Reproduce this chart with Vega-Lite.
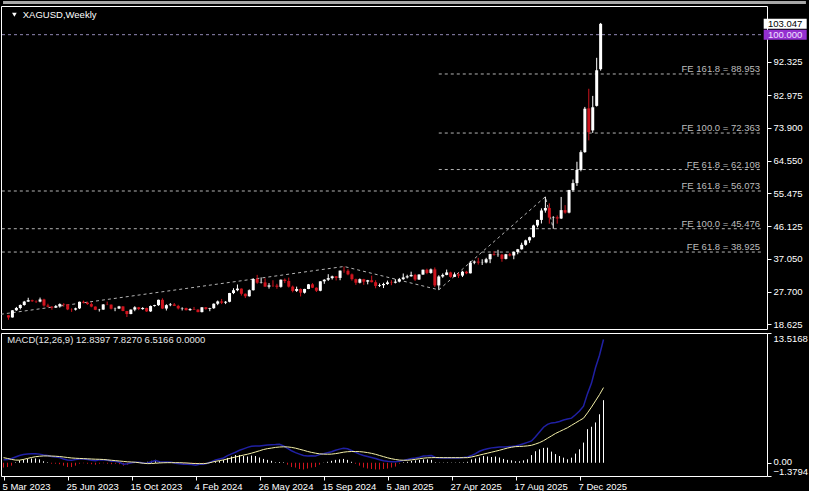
{
"$schema":"https://vega.github.io/schema/vega-lite/v6.json",
"background":"black",
"padding":0,
"spacing":2,
"config":{"view":{"stroke":"white","strokeWidth":1},"axis":{"labelFont":"Liberation Sans","labelFontSize":9.5,"labelColor":"white","tickColor":"white","tickWidth":1,"domain":false,"grid":false,"title":null},"text":{"font":"Liberation Sans","fontSize":9.5}},
"resolve":{"scale":{"x":"independent","y":"independent"}},
"datasets":{
"weeks":[
{"d":"2023-03-05","o":21.15,"h":21.25,"l":19.9,"c":20.55,"m":0.3,"s":0.53,"hist":-0.5},
{"d":"2023-03-12","o":20.55,"h":22.6,"l":20.5,"c":22.55,"m":0.35,"s":0.45,"hist":-0.45},
{"d":"2023-03-19","o":22.55,"h":23.5,"l":22.4,"c":23.2,"m":0.45,"s":0.35,"hist":-0.3},
{"d":"2023-03-26","o":23.2,"h":24.2,"l":22.8,"c":24.05,"m":0.6,"s":0.28,"hist":0.05},
{"d":"2023-04-02","o":24.05,"h":25.2,"l":23.85,"c":25.0,"m":0.75,"s":0.27,"hist":0.25},
{"d":"2023-04-09","o":25.0,"h":26.08,"l":24.9,"c":25.4,"m":0.85,"s":0.35,"hist":0.35},
{"d":"2023-04-16","o":25.4,"h":25.55,"l":24.9,"c":25.1,"m":0.92,"s":0.45,"hist":0.4},
{"d":"2023-04-23","o":25.1,"h":25.35,"l":24.6,"c":25.0,"m":0.95,"s":0.55,"hist":0.45},
{"d":"2023-04-30","o":25.0,"h":26.13,"l":24.8,"c":25.6,"m":0.95,"s":0.63,"hist":0.45},
{"d":"2023-05-07","o":25.6,"h":25.8,"l":23.6,"c":23.9,"m":0.9,"s":0.68,"hist":0.35},
{"d":"2023-05-14","o":23.9,"h":24.4,"l":23.4,"c":23.55,"m":0.8,"s":0.71,"hist":0.15},
{"d":"2023-05-21","o":23.55,"h":23.75,"l":22.7,"c":23.3,"m":0.75,"s":0.71,"hist":0.05},
{"d":"2023-05-28","o":23.3,"h":24.05,"l":23.2,"c":23.65,"m":0.65,"s":0.7,"hist":-0.1},
{"d":"2023-06-04","o":23.65,"h":24.5,"l":23.3,"c":24.3,"m":0.6,"s":0.68,"hist":-0.1},
{"d":"2023-06-11","o":24.3,"h":24.55,"l":23.55,"c":24.2,"m":0.55,"s":0.65,"hist":-0.15},
{"d":"2023-06-18","o":24.2,"h":24.3,"l":22.6,"c":22.8,"m":0.4,"s":0.6,"hist":-0.3},
{"d":"2023-06-25","o":22.8,"h":23.1,"l":22.1,"c":22.75,"m":0.28,"s":0.55,"hist":-0.45},
{"d":"2023-07-02","o":22.75,"h":23.3,"l":22.5,"c":23.1,"m":0.25,"s":0.5,"hist":-0.45},
{"d":"2023-07-09","o":23.1,"h":25.0,"l":22.9,"c":24.95,"m":0.35,"s":0.47,"hist":-0.3},
{"d":"2023-07-16","o":24.95,"h":25.27,"l":24.5,"c":24.7,"m":0.4,"s":0.45,"hist":-0.1},
{"d":"2023-07-23","o":24.7,"h":25.0,"l":24.1,"c":24.3,"m":0.4,"s":0.43,"hist":-0.05},
{"d":"2023-07-30","o":24.3,"h":24.8,"l":23.4,"c":23.6,"m":0.35,"s":0.41,"hist":-0.1},
{"d":"2023-08-06","o":23.6,"h":23.65,"l":22.6,"c":22.7,"m":0.25,"s":0.39,"hist":-0.15},
{"d":"2023-08-13","o":22.7,"h":22.95,"l":22.2,"c":22.75,"m":0.2,"s":0.37,"hist":-0.2},
{"d":"2023-08-20","o":22.75,"h":24.3,"l":22.7,"c":24.2,"m":0.3,"s":0.36,"hist":-0.1},
{"d":"2023-08-27","o":24.2,"h":25.0,"l":24.0,"c":24.15,"m":0.32,"s":0.34,"hist":-0.05},
{"d":"2023-09-03","o":24.15,"h":24.2,"l":22.8,"c":23.0,"m":0.25,"s":0.3,"hist":-0.1},
{"d":"2023-09-10","o":23.0,"h":23.3,"l":22.3,"c":23.05,"m":0.15,"s":0.26,"hist":-0.15},
{"d":"2023-09-17","o":23.05,"h":23.8,"l":22.9,"c":23.65,"m":0.15,"s":0.22,"hist":-0.1},
{"d":"2023-09-24","o":23.65,"h":23.7,"l":22.3,"c":22.35,"m":0.05,"s":0.18,"hist":-0.15},
{"d":"2023-10-01","o":22.35,"h":22.4,"l":20.68,"c":21.5,"m":-0.15,"s":0.14,"hist":-0.3},
{"d":"2023-10-08","o":21.5,"h":22.8,"l":21.45,"c":22.75,"m":-0.1,"s":0.1,"hist":-0.2},
{"d":"2023-10-15","o":22.75,"h":23.7,"l":22.3,"c":23.4,"m":0.0,"s":0.08,"hist":-0.05},
{"d":"2023-10-22","o":23.4,"h":23.5,"l":22.6,"c":22.9,"m":0.05,"s":0.05,"hist":0.02},
{"d":"2023-10-29","o":22.9,"h":23.45,"l":22.7,"c":23.2,"m":0.05,"s":0.0,"hist":0.05},
{"d":"2023-11-05","o":23.2,"h":23.3,"l":22.1,"c":22.25,"m":-0.05,"s":-0.05,"hist":0.02},
{"d":"2023-11-12","o":22.25,"h":23.9,"l":22.1,"c":23.75,"m":-0.02,"s":-0.09,"hist":0.1},
{"d":"2023-11-19","o":23.75,"h":24.1,"l":23.6,"c":24.0,"m":0.1,"s":-0.08,"hist":0.2},
{"d":"2023-11-26","o":24.0,"h":25.55,"l":23.8,"c":25.5,"m":0.22,"s":-0.05,"hist":0.3},
{"d":"2023-12-03","o":25.5,"h":25.92,"l":22.9,"c":23.05,"m":0.1,"s":-0.02,"hist":0.15},
{"d":"2023-12-10","o":23.05,"h":24.25,"l":22.5,"c":24.0,"m":0.08,"s":0.0,"hist":0.05},
{"d":"2023-12-17","o":24.0,"h":24.6,"l":23.7,"c":24.2,"m":0.08,"s":0.01,"hist":0.05},
{"d":"2023-12-24","o":24.2,"h":24.6,"l":23.75,"c":23.8,"m":0.05,"s":0.01,"hist":0.03},
{"d":"2023-12-31","o":23.8,"h":24.1,"l":22.8,"c":23.1,"m":-0.05,"s":0.01,"hist":-0.05},
{"d":"2024-01-07","o":23.1,"h":23.4,"l":22.5,"c":23.2,"m":-0.1,"s":0.01,"hist":-0.1},
{"d":"2024-01-14","o":23.2,"h":23.3,"l":22.5,"c":22.6,"m":-0.15,"s":-0.01,"hist":-0.12},
{"d":"2024-01-21","o":22.6,"h":23.15,"l":22.4,"c":22.9,"m":-0.15,"s":-0.03,"hist":-0.1},
{"d":"2024-01-28","o":22.9,"h":23.5,"l":22.7,"c":22.75,"m":-0.18,"s":-0.06,"hist":-0.12},
{"d":"2024-02-04","o":22.75,"h":22.85,"l":22.0,"c":22.05,"m":-0.25,"s":-0.08,"hist":-0.15},
{"d":"2024-02-11","o":22.05,"h":23.45,"l":21.95,"c":23.4,"m":-0.15,"s":-0.09,"hist":-0.05},
{"d":"2024-02-18","o":23.4,"h":23.45,"l":22.7,"c":22.95,"m":-0.15,"s":-0.09,"hist":-0.05},
{"d":"2024-02-25","o":22.95,"h":23.25,"l":22.3,"c":23.15,"m":-0.05,"s":-0.05,"hist":0.02},
{"d":"2024-03-03","o":23.15,"h":24.5,"l":22.95,"c":24.4,"m":0.12,"s":0.05,"hist":0.1},
{"d":"2024-03-10","o":24.4,"h":25.3,"l":24.0,"c":25.05,"m":0.3,"s":0.15,"hist":0.15},
{"d":"2024-03-17","o":25.05,"h":25.75,"l":24.3,"c":24.7,"m":0.4,"s":0.22,"hist":0.2},
{"d":"2024-03-24","o":24.7,"h":25.15,"l":24.3,"c":24.95,"m":0.5,"s":0.3,"hist":0.3},
{"d":"2024-03-31","o":24.95,"h":27.45,"l":24.8,"c":27.4,"m":0.75,"s":0.4,"hist":0.5},
{"d":"2024-04-07","o":27.4,"h":28.75,"l":27.1,"c":28.2,"m":0.92,"s":0.5,"hist":0.65},
{"d":"2024-04-14","o":28.2,"h":29.8,"l":27.9,"c":28.65,"m":1.1,"s":0.6,"hist":0.8},
{"d":"2024-04-21","o":28.65,"h":28.7,"l":26.7,"c":27.2,"m":1.3,"s":0.7,"hist":0.8},
{"d":"2024-04-28","o":27.2,"h":27.3,"l":26.0,"c":26.5,"m":1.45,"s":0.8,"hist":0.7},
{"d":"2024-05-05","o":26.5,"h":28.4,"l":26.4,"c":28.2,"m":1.6,"s":0.89,"hist":0.65},
{"d":"2024-05-12","o":28.2,"h":31.55,"l":28.1,"c":31.35,"m":1.72,"s":1.0,"hist":0.75},
{"d":"2024-05-19","o":31.35,"h":32.5,"l":30.0,"c":30.3,"m":1.75,"s":1.12,"hist":0.7},
{"d":"2024-05-26","o":30.3,"h":31.8,"l":30.1,"c":30.4,"m":1.75,"s":1.25,"hist":0.55},
{"d":"2024-06-02","o":30.4,"h":31.55,"l":29.15,"c":29.2,"m":1.8,"s":1.38,"hist":0.4},
{"d":"2024-06-09","o":29.2,"h":30.2,"l":28.65,"c":29.55,"m":1.85,"s":1.47,"hist":0.3},
{"d":"2024-06-16","o":29.55,"h":31.0,"l":29.1,"c":29.5,"m":1.88,"s":1.53,"hist":0.2},
{"d":"2024-06-23","o":29.5,"h":30.0,"l":28.6,"c":29.15,"m":1.9,"s":1.6,"hist":0.05},
{"d":"2024-06-30","o":29.15,"h":31.2,"l":28.9,"c":31.15,"m":1.93,"s":1.64,"hist":0.08},
{"d":"2024-07-07","o":31.15,"h":31.5,"l":30.2,"c":30.8,"m":1.75,"s":1.66,"hist":0.05},
{"d":"2024-07-14","o":30.8,"h":31.75,"l":28.95,"c":29.2,"m":1.5,"s":1.65,"hist":-0.2},
{"d":"2024-07-21","o":29.2,"h":29.5,"l":27.6,"c":28.0,"m":1.25,"s":1.6,"hist":-0.45},
{"d":"2024-07-28","o":28.0,"h":29.2,"l":27.7,"c":28.55,"m":1.05,"s":1.52,"hist":-0.5},
{"d":"2024-08-04","o":28.55,"h":28.7,"l":26.45,"c":27.5,"m":0.9,"s":1.41,"hist":-0.65},
{"d":"2024-08-11","o":27.5,"h":28.6,"l":27.25,"c":28.55,"m":0.75,"s":1.3,"hist":-0.7},
{"d":"2024-08-18","o":28.55,"h":29.95,"l":28.5,"c":29.85,"m":0.7,"s":1.18,"hist":-0.6},
{"d":"2024-08-25","o":29.85,"h":30.2,"l":28.8,"c":28.9,"m":0.72,"s":1.08,"hist":-0.5},
{"d":"2024-09-01","o":28.9,"h":29.0,"l":27.7,"c":28.05,"m":0.7,"s":1.0,"hist":-0.45},
{"d":"2024-09-08","o":28.05,"h":30.75,"l":27.9,"c":30.7,"m":0.85,"s":0.93,"hist":-0.2},
{"d":"2024-09-15","o":30.7,"h":31.3,"l":30.0,"c":31.15,"m":0.95,"s":0.9,"hist":0.02},
{"d":"2024-09-22","o":31.15,"h":32.7,"l":30.8,"c":31.6,"m":1.05,"s":0.89,"hist":0.1},
{"d":"2024-09-29","o":31.6,"h":32.3,"l":31.2,"c":32.1,"m":1.15,"s":0.9,"hist":0.2},
{"d":"2024-10-06","o":32.1,"h":32.15,"l":30.95,"c":31.65,"m":1.3,"s":0.95,"hist":0.3},
{"d":"2024-10-13","o":31.65,"h":33.75,"l":31.0,"c":33.7,"m":1.42,"s":1.02,"hist":0.35},
{"d":"2024-10-20","o":33.7,"h":34.87,"l":33.1,"c":33.65,"m":1.5,"s":1.1,"hist":0.4},
{"d":"2024-10-27","o":33.65,"h":34.1,"l":32.4,"c":32.65,"m":1.45,"s":1.15,"hist":0.3},
{"d":"2024-11-03","o":32.65,"h":32.9,"l":30.9,"c":31.3,"m":1.28,"s":1.17,"hist":0.1},
{"d":"2024-11-10","o":31.3,"h":31.45,"l":29.7,"c":30.3,"m":1.08,"s":1.17,"hist":-0.1},
{"d":"2024-11-17","o":30.3,"h":31.5,"l":30.1,"c":31.3,"m":0.9,"s":1.16,"hist":-0.3},
{"d":"2024-11-24","o":31.3,"h":31.4,"l":29.7,"c":30.6,"m":0.75,"s":1.12,"hist":-0.5},
{"d":"2024-12-01","o":30.6,"h":31.1,"l":29.85,"c":31.0,"m":0.65,"s":1.06,"hist":-0.6},
{"d":"2024-12-08","o":31.0,"h":32.3,"l":30.4,"c":30.45,"m":0.55,"s":0.98,"hist":-0.65},
{"d":"2024-12-15","o":30.45,"h":31.0,"l":28.75,"c":29.4,"m":0.45,"s":0.88,"hist":-0.7},
{"d":"2024-12-22","o":29.4,"h":30.1,"l":29.1,"c":29.6,"m":0.32,"s":0.76,"hist":-0.7},
{"d":"2024-12-29","o":29.6,"h":30.3,"l":28.8,"c":29.95,"m":0.22,"s":0.64,"hist":-0.65},
{"d":"2025-01-05","o":29.95,"h":30.9,"l":29.7,"c":30.4,"m":0.15,"s":0.52,"hist":-0.6},
{"d":"2025-01-12","o":30.4,"h":31.0,"l":29.6,"c":30.3,"m":0.1,"s":0.42,"hist":-0.5},
{"d":"2025-01-19","o":30.3,"h":31.3,"l":30.1,"c":30.6,"m":0.1,"s":0.34,"hist":-0.4},
{"d":"2025-01-26","o":30.6,"h":31.65,"l":30.4,"c":31.3,"m":0.15,"s":0.28,"hist":-0.1},
{"d":"2025-02-02","o":31.3,"h":32.9,"l":31.1,"c":31.8,"m":0.25,"s":0.26,"hist":0.05},
{"d":"2025-02-09","o":31.8,"h":32.55,"l":31.5,"c":32.1,"m":0.35,"s":0.26,"hist":0.1},
{"d":"2025-02-16","o":32.1,"h":33.4,"l":32.0,"c":32.5,"m":0.45,"s":0.3,"hist":0.2},
{"d":"2025-02-23","o":32.5,"h":32.8,"l":30.8,"c":31.2,"m":0.5,"s":0.36,"hist":0.25},
{"d":"2025-03-02","o":31.2,"h":32.7,"l":31.1,"c":32.6,"m":0.58,"s":0.42,"hist":0.3},
{"d":"2025-03-09","o":32.6,"h":34.0,"l":32.5,"c":33.95,"m":0.7,"s":0.48,"hist":0.35},
{"d":"2025-03-16","o":33.95,"h":34.25,"l":32.7,"c":33.05,"m":0.72,"s":0.52,"hist":0.35},
{"d":"2025-03-23","o":33.05,"h":34.3,"l":32.8,"c":34.05,"m":0.75,"s":0.53,"hist":0.3},
{"d":"2025-03-30","o":34.05,"h":34.6,"l":29.1,"c":29.55,"m":0.55,"s":0.54,"hist":0.05},
{"d":"2025-04-06","o":29.55,"h":32.4,"l":28.3,"c":32.05,"m":0.5,"s":0.54,"hist":0.03},
{"d":"2025-04-13","o":32.05,"h":32.9,"l":31.7,"c":32.5,"m":0.5,"s":0.53,"hist":0.03},
{"d":"2025-04-20","o":32.5,"h":34.0,"l":32.4,"c":33.2,"m":0.52,"s":0.53,"hist":0.04},
{"d":"2025-04-27","o":33.2,"h":33.4,"l":31.7,"c":31.95,"m":0.5,"s":0.53,"hist":0.03},
{"d":"2025-05-04","o":31.95,"h":33.2,"l":31.9,"c":32.65,"m":0.5,"s":0.53,"hist":0.03},
{"d":"2025-05-11","o":32.65,"h":33.1,"l":31.65,"c":32.3,"m":0.5,"s":0.53,"hist":0.04},
{"d":"2025-05-18","o":32.3,"h":33.65,"l":31.9,"c":33.4,"m":0.55,"s":0.53,"hist":0.05},
{"d":"2025-05-25","o":33.4,"h":33.65,"l":32.7,"c":32.95,"m":0.6,"s":0.53,"hist":0.1},
{"d":"2025-06-01","o":32.95,"h":36.4,"l":32.9,"c":35.95,"m":0.75,"s":0.6,"hist":0.35},
{"d":"2025-06-08","o":35.95,"h":36.55,"l":35.5,"c":36.25,"m":0.95,"s":0.7,"hist":0.45},
{"d":"2025-06-15","o":36.25,"h":37.3,"l":35.4,"c":35.95,"m":1.2,"s":0.8,"hist":0.55},
{"d":"2025-06-22","o":35.95,"h":36.9,"l":35.3,"c":36.0,"m":1.35,"s":0.9,"hist":0.7},
{"d":"2025-06-29","o":36.0,"h":37.3,"l":35.75,"c":36.9,"m":1.45,"s":1.0,"hist":0.65},
{"d":"2025-07-06","o":36.9,"h":38.45,"l":35.8,"c":38.35,"m":1.55,"s":1.1,"hist":0.6},
{"d":"2025-07-13","o":38.35,"h":39.15,"l":37.9,"c":38.15,"m":1.6,"s":1.2,"hist":0.65},
{"d":"2025-07-20","o":38.15,"h":39.55,"l":37.6,"c":38.2,"m":1.65,"s":1.3,"hist":0.55},
{"d":"2025-07-27","o":38.2,"h":38.4,"l":36.2,"c":37.0,"m":1.65,"s":1.42,"hist":0.4},
{"d":"2025-08-03","o":37.0,"h":38.4,"l":36.85,"c":38.3,"m":1.68,"s":1.53,"hist":0.3},
{"d":"2025-08-10","o":38.3,"h":38.7,"l":37.7,"c":37.95,"m":1.7,"s":1.62,"hist":0.25},
{"d":"2025-08-17","o":37.95,"h":39.1,"l":36.9,"c":38.95,"m":1.75,"s":1.68,"hist":0.15},
{"d":"2025-08-24","o":38.95,"h":39.8,"l":38.3,"c":39.7,"m":1.85,"s":1.7,"hist":0.15},
{"d":"2025-08-31","o":39.7,"h":41.55,"l":39.6,"c":40.95,"m":1.98,"s":1.72,"hist":0.25},
{"d":"2025-09-07","o":40.95,"h":42.4,"l":40.7,"c":42.2,"m":2.12,"s":1.76,"hist":0.36},
{"d":"2025-09-14","o":42.2,"h":43.25,"l":41.5,"c":43.1,"m":2.27,"s":1.82,"hist":0.8},
{"d":"2025-09-21","o":43.1,"h":46.6,"l":43.0,"c":46.4,"m":2.7,"s":1.95,"hist":1.2},
{"d":"2025-09-28","o":46.4,"h":48.0,"l":45.9,"c":47.95,"m":3.2,"s":2.1,"hist":1.4},
{"d":"2025-10-05","o":47.95,"h":51.2,"l":46.95,"c":50.6,"m":3.7,"s":2.3,"hist":1.55},
{"d":"2025-10-12","o":50.6,"h":54.47,"l":50.0,"c":51.3,"m":4.0,"s":2.55,"hist":1.57},
{"d":"2025-10-19","o":51.3,"h":52.6,"l":46.9,"c":48.6,"m":4.15,"s":2.8,"hist":1.16},
{"d":"2025-10-26","o":48.6,"h":49.0,"l":45.5,"c":48.7,"m":4.2,"s":3.05,"hist":0.9},
{"d":"2025-11-02","o":48.7,"h":49.2,"l":46.9,"c":48.35,"m":4.3,"s":3.25,"hist":0.7},
{"d":"2025-11-09","o":48.35,"h":54.4,"l":48.2,"c":50.7,"m":4.45,"s":3.45,"hist":0.53},
{"d":"2025-11-16","o":50.7,"h":52.1,"l":49.7,"c":50.0,"m":4.55,"s":3.65,"hist":0.36},
{"d":"2025-11-23","o":50.0,"h":56.4,"l":49.8,"c":56.35,"m":4.65,"s":3.9,"hist":0.53},
{"d":"2025-11-30","o":56.35,"h":59.3,"l":55.9,"c":58.3,"m":5.0,"s":4.15,"hist":0.95},
{"d":"2025-12-07","o":58.3,"h":64.3,"l":57.5,"c":62.0,"m":5.4,"s":4.4,"hist":1.4},
{"d":"2025-12-14","o":62.0,"h":67.5,"l":61.6,"c":67.0,"m":5.9,"s":4.64,"hist":2.1},
{"d":"2025-12-21","o":67.0,"h":79.7,"l":66.8,"c":79.2,"m":7.2,"s":5.2,"hist":3.5},
{"d":"2025-12-28","o":79.3,"h":84.8,"l":70.3,"c":72.6,"m":8.3,"s":5.8,"hist":3.75},
{"d":"2026-01-04","o":73.1,"h":82.8,"l":72.4,"c":79.6,"m":9.9,"s":6.45,"hist":4.2},
{"d":"2026-01-11","o":80.0,"h":93.5,"l":79.8,"c":90.0,"m":11.2,"s":7.1,"hist":5.05},
{"d":"2026-01-18","o":90.3,"h":103.3,"l":89.9,"c":103.05,"m":12.84,"s":7.83,"hist":6.52}
],
"fe":[
{"label":"FE 161.8 = 88.953","price":88.953,"start":"2025-04-06"},
{"label":"FE 100.0 = 72.363","price":72.363,"start":"2025-04-06"},
{"label":"FE 61.8 = 62.108","price":62.108,"start":"2025-04-06"},
{"label":"FE 161.8 = 56.073","price":56.073,"start":"2022-09-04"},
{"label":"FE 100.0 = 45.476","price":45.476,"start":"2022-09-04"},
{"label":"FE 61.8 = 38.925","price":38.925,"start":"2022-09-04"}
],
"zig":[
{"g":"A","d":"2022-09-04","p":17.72},
{"g":"A","d":"2024-10-20","p":34.87},
{"g":"A","d":"2025-04-06","p":28.3},
{"g":"B","d":"2025-04-06","p":28.3},
{"g":"B","d":"2025-10-12","p":54.47},
{"g":"B","d":"2025-10-26","p":45.5}
],
"tags":[
{"label":"100.000","price":100},
{"label":"103.047","price":103.047}
]
},
"vconcat":[
{
"width":766,"height":323,
"layer":[
{"data":{"values":[{}]},"mark":{"type":"rect","color":"#a8a8a8"},
 "encoding":{"x":{"datum":{"year":2023,"month":2,"date":23,"hours":9,"utc":true},"type":"temporal","axis":null,"scale":{"type":"utc","domain":[{"year":2023,"month":2,"date":28,"hours":15,"utc":true},{"year":2026,"month":10,"date":31,"hours":3,"utc":true}],"nice":false}},
 "x2":{"datum":{"year":2027,"month":1,"date":17,"utc":true}},
 "y":{"datum":109.46,"type":"quantitative","scale":{"domain":[17.3,108.06],"nice":false,"zero":false},"axis":{"orient":"right","values":[18.625,27.7,37.05,46.125,55.475,64.55,73.9,82.975,92.325],"format":".3f","tickSize":4,"labelPadding":2,"labelOverlap":false,"labelBound":false,"labelFlush":false}},
 "y2":{"datum":108.6}}},
{"data":{"values":[{}]},"mark":{"type":"rule","color":"#9088b4","strokeDash":[3,3],"strokeWidth":1},
 "encoding":{"y":{"datum":100,"type":"quantitative"}}},
{"data":{"name":"fe"},"mark":{"type":"rule","color":"#b4b4b4","strokeDash":[3,3],"strokeWidth":1,"clip":true},
 "encoding":{"x":{"field":"start","type":"temporal","axis":null},"x2":{"datum":{"year":2026,"month":10,"date":31,"hours":3,"utc":true}},"y":{"field":"price","type":"quantitative"}}},
{"data":{"name":"fe"},"mark":{"type":"text","color":"#bdbdbd","align":"right","baseline":"alphabetic","dx":-2,"dy":-2},
 "encoding":{"x":{"datum":{"year":2026,"month":10,"date":31,"hours":3,"utc":true},"type":"temporal","axis":null},"y":{"field":"price","type":"quantitative"},"text":{"field":"label"}}},
{"data":{"name":"zig"},"mark":{"type":"line","color":"#b4b4b4","strokeDash":[3,3],"strokeWidth":1,"clip":true},
 "encoding":{"x":{"field":"d","type":"temporal","axis":null},"y":{"field":"p","type":"quantitative"},"detail":{"field":"g"}}},
{"data":{"name":"weeks"},"mark":{"type":"rule","strokeWidth":1},
 "encoding":{"x":{"field":"d","type":"temporal","axis":null},"y":{"field":"l","type":"quantitative"},"y2":{"field":"h"},
 "color":{"condition":{"test":"datum.c >= datum.o","value":"white"},"value":"#d0141e"}}},
{"data":{"name":"weeks"},"mark":{"type":"bar","width":3},
 "encoding":{"x":{"field":"d","type":"temporal","axis":null},"y":{"field":"o","type":"quantitative"},"y2":{"field":"c"},
 "color":{"condition":{"test":"datum.c >= datum.o","value":"white"},"value":"#d0141e"}}},
{"data":{"values":[{}]},"mark":{"type":"point","shape":"triangle-down","filled":true,"color":"white","size":22,"opacity":1},
 "encoding":{"x":{"datum":{"year":2023,"month":3,"date":15,"hours":12,"utc":true},"type":"temporal","axis":null},"y":{"datum":105.6,"type":"quantitative"}}},
{"data":{"values":[{}]},"mark":{"type":"text","color":"white","align":"left","baseline":"middle"},
 "encoding":{"x":{"datum":{"year":2023,"month":3,"date":30,"hours":9,"utc":true},"type":"temporal","axis":null},"y":{"datum":105.53,"type":"quantitative"},"text":{"value":"XAGUSD,Weekly"}}},
{"data":{"name":"tags"},"mark":{"type":"point","shape":"M-1,-0.2326H1V0.2326H-1Z","filled":true,"size":1849,"opacity":1,"strokeWidth":0},
 "encoding":{"x":{"datum":{"year":2026,"month":12,"date":11,"hours":6,"utc":true},"type":"temporal","axis":null},"y":{"field":"price","type":"quantitative"},
 "color":{"condition":{"test":"datum.price > 101","value":"white"},"value":"#9430d0"}}},
{"data":{"name":"tags"},"mark":{"type":"text","align":"center","baseline":"middle"},
 "encoding":{"x":{"datum":{"year":2026,"month":12,"date":11,"hours":6,"utc":true},"type":"temporal","axis":null},"y":{"field":"price","type":"quantitative"},"text":{"field":"label"},
 "color":{"condition":{"test":"datum.price > 101","value":"black"},"value":"#f0e0ff"}}}
]
},
{
"width":766,"height":143,
"data":{"name":"weeks"},
"layer":[
{"mark":{"type":"rule","strokeWidth":1},
 "encoding":{"x":{"field":"d","type":"temporal","scale":{"type":"utc","domain":[{"year":2023,"month":2,"date":28,"hours":15,"utc":true},{"year":2026,"month":10,"date":31,"hours":3,"utc":true}],"nice":false},
  "axis":{"values":[{"year":2023,"month":3,"date":5,"utc":true},{"year":2023,"month":6,"date":25,"utc":true},{"year":2023,"month":10,"date":15,"utc":true},{"year":2024,"month":2,"date":4,"utc":true},{"year":2024,"month":5,"date":26,"utc":true},{"year":2024,"month":9,"date":15,"utc":true},{"year":2025,"month":1,"date":5,"utc":true},{"year":2025,"month":4,"date":27,"utc":true},{"year":2025,"month":8,"date":17,"utc":true},{"year":2025,"month":12,"date":7,"utc":true}],
  "labelExpr":"utcFormat(datum.value, '%-d %b %Y')","labelAlign":"left","labelOffset":-1.5,"tickSize":4,"labelPadding":1,"labelOverlap":false,"labelFlush":false,"labelBound":false}},
 "y":{"field":"hist","type":"quantitative","scale":{"domain":[-1.3794,13.5168],"nice":false,"zero":false},
  "axis":{"orient":"right","values":[13.5168,0,-1.3794],"labelExpr":"datum.value == 0 ? '0.00' : format(datum.value, '.4f')","tickSize":4,"labelPadding":2,"labelOverlap":false,"labelBound":false,"labelFlush":false,
  "labelBaseline":{"condition":[{"test":"datum.value > 10","value":"top"},{"test":"datum.value < -1","value":"bottom"}],"value":"middle"},
  "labelOffset":{"condition":{"test":"datum.value == 0","value":-1.5},"value":0}}},
 "y2":{"datum":0},
 "color":{"condition":{"test":"datum.hist >= 0","value":"white"},"value":"#d0141e"}}},
{"mark":{"type":"line","color":"#2020a4","strokeWidth":1.5},
 "encoding":{"x":{"field":"d","type":"temporal"},"y":{"field":"m","type":"quantitative"}}},
{"mark":{"type":"line","color":"#f4f0a8","strokeWidth":1},
 "encoding":{"x":{"field":"d","type":"temporal"},"y":{"field":"s","type":"quantitative"}}},
{"data":{"values":[{}]},"mark":{"type":"text","color":"#e6e6e6","align":"left","baseline":"middle"},
 "encoding":{"x":{"datum":{"year":2023,"month":3,"date":11,"hours":16,"utc":true},"type":"temporal"},"y":{"datum":12.76,"type":"quantitative"},"text":{"value":"MACD(12,26,9) 12.8397 7.8270 6.5166 0.0000"}}}
]
}
]
}
